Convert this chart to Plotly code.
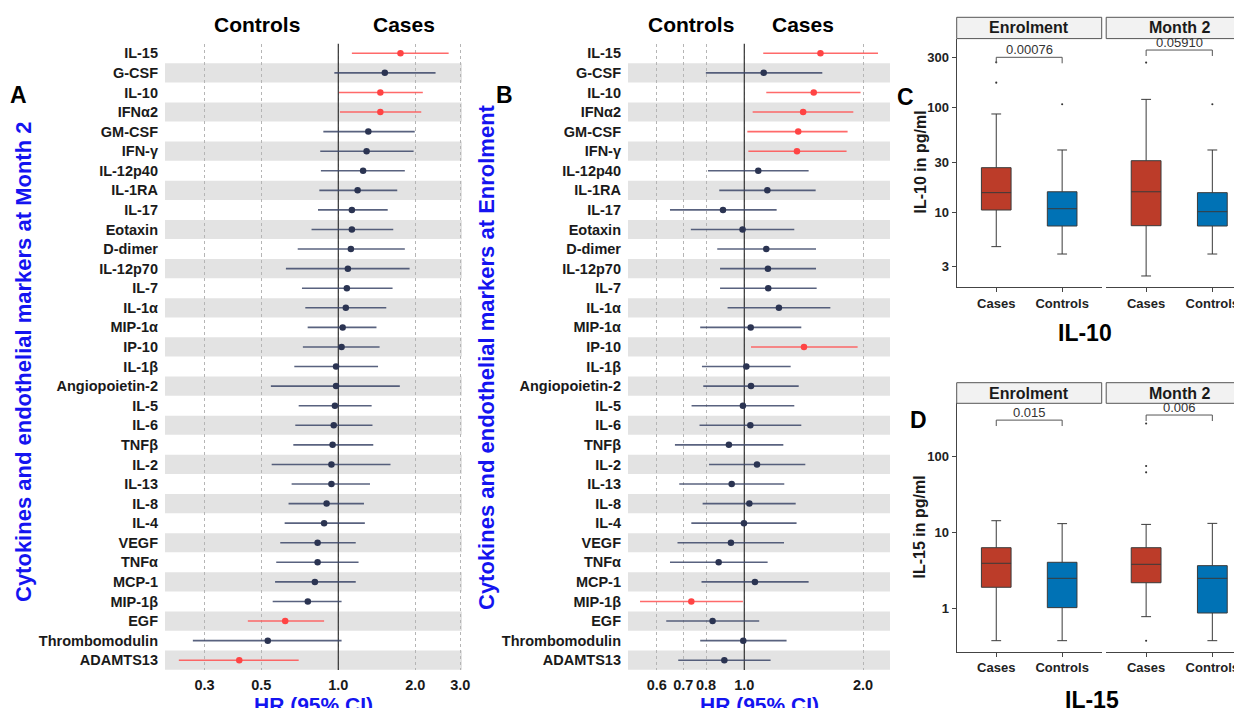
import math
import plotly.graph_objects as go

# ---------------- data ----------------
markers = ["IL-15", "G-CSF", "IL-10", "IFNα2", "GM-CSF", "IFN-γ", "IL-12p40", "IL-1RA",
           "IL-17", "Eotaxin", "D-dimer", "IL-12p70", "IL-7", "IL-1α", "MIP-1α", "IP-10",
           "IL-1β", "Angiopoietin-2", "IL-5", "IL-6", "TNFβ", "IL-2", "IL-13", "IL-8",
           "IL-4", "VEGF", "TNFα", "MCP-1", "MIP-1β", "EGF", "Thrombomodulin", "ADAMTS13"]

# Panel A: Month 2
hr_a = [1.75, 1.52, 1.46, 1.46, 1.31, 1.29, 1.25, 1.19, 1.13, 1.13, 1.12, 1.09, 1.08, 1.07, 1.04, 1.03,
        0.98, 0.98, 0.97, 0.96, 0.95, 0.94, 0.94, 0.90, 0.88, 0.83, 0.83, 0.81, 0.76, 0.62, 0.53, 0.41]
lo_a = [1.13, 0.965, 1.006, 1.015, 0.874, 0.850, 0.855, 0.843, 0.833, 0.786, 0.694, 0.624, 0.721, 0.743,
        0.759, 0.727, 0.673, 0.545, 0.700, 0.679, 0.667, 0.549, 0.657, 0.639, 0.617, 0.593, 0.572, 0.566,
        0.554, 0.443, 0.270, 0.238]
hi_a = [2.70, 2.40, 2.14, 2.11, 1.99, 1.97, 1.82, 1.70, 1.56, 1.64, 1.82, 1.90, 1.63, 1.54, 1.41, 1.45,
        1.43, 1.74, 1.35, 1.36, 1.37, 1.60, 1.33, 1.26, 1.27, 1.17, 1.20, 1.17, 1.03, 0.88, 1.03, 0.70]
sig_a = [1, 0, 1, 1, 0, 0, 0, 0, 0, 0, 0, 0, 0, 0, 0, 0,
         0, 0, 0, 0, 0, 0, 0, 0, 0, 0, 0, 0, 0, 1, 0, 1]

# Panel B: Enrolment
hr_b = [1.56, 1.12, 1.50, 1.41, 1.37, 1.36, 1.085, 1.144, 0.883, 0.990, 1.137, 1.148, 1.150, 1.224, 1.038,
        1.417, 1.012, 1.040, 0.992, 1.036, 0.914, 1.077, 0.929, 1.030, 0.998, 0.925, 0.861, 1.064, 0.734,
        0.831, 0.994, 0.890]
lo_b = [1.117, 0.799, 1.137, 1.050, 1.018, 1.024, 0.809, 0.864, 0.648, 0.732, 0.854, 0.868, 0.868, 0.907,
        0.773, 1.040, 0.781, 0.787, 0.735, 0.770, 0.667, 0.814, 0.684, 0.784, 0.734, 0.677, 0.648, 0.779,
        0.544, 0.634, 0.773, 0.680]
hi_b = [2.183, 1.577, 1.972, 1.890, 1.828, 1.817, 1.456, 1.517, 1.208, 1.339, 1.520, 1.520, 1.526, 1.653,
        1.395, 1.938, 1.311, 1.374, 1.339, 1.395, 1.256, 1.428, 1.263, 1.350, 1.357, 1.261, 1.146, 1.456,
        0.992, 1.091, 1.280, 1.166]
sig_b = [1, 0, 1, 1, 1, 1, 0, 0, 0, 0, 0, 0, 0, 0, 0, 1,
         0, 0, 0, 0, 0, 0, 0, 0, 0, 0, 0, 0, 1, 0, 0, 0]

ticks_a = [0.3, 0.5, 1.0, 2.0, 3.0]
ticklab_a = ["0.3", "0.5", "1.0", "2.0", "3.0"]
ticks_b = [0.6, 0.7, 0.8, 1.0, 2.0]
ticklab_b = ["0.6", "0.7", "0.8", "1.0", "2.0"]

groups = ["Cases", "Controls"]
facets = ["Enrolment", "Month 2"]

# Panel C: IL-10 (pg/ml) box statistics [Cases, Controls]
il10 = {
    "Enrolment": dict(q1=[10.45, 7.35], med=[15.3, 10.75], q3=[26.5, 15.6], lf=[4.67, 3.97], uf=[86.3, 39.1]),
    "Month 2": dict(q1=[7.4, 7.35], med=[15.6, 10.07], q3=[30.9, 15.3], lf=[2.45, 3.97], uf=[119.0, 39.1]),
}
il10_out = {
    "Enrolment": [[171.8, 269.0], [107.0]],
    "Month 2": [[267.0], [107.0]],
}
il10_p = ["0.00076", "0.05910"]
il10_bracket = [(300.0, 263.0), (352.0, 309.0)]
il10_ticks = [3, 10, 30, 100, 300]

# Panel D: IL-15 (pg/ml)
il15 = {
    "Enrolment": dict(q1=[1.89, 1.02], med=[3.91, 2.48], q3=[6.27, 4.03], lf=[0.375, 0.375], uf=[14.2, 13.0]),
    "Month 2": dict(q1=[2.17, 0.867], med=[3.79, 2.48], q3=[6.27, 3.64], lf=[0.776, 0.375], uf=[12.7, 13.1]),
}
il15_out = {
    "Enrolment": [[], []],
    "Month 2": [[270.0, 74.5, 61.5, 0.375], []],
}
il15_p = ["0.015", "0.006"]
il15_bracket = [(299.0, 250.0), (349.0, 291.0)]
il15_ticks = [1, 10, 100]

# ---------------- style ----------------
OFF = 8                      # page body margin offset
W, H = 1242 - OFF, 708 - OFF
FONT = "Liberation Sans, Arial, Helvetica, sans-serif"
RED_PT, RED_LN = "#FF4444", "rgba(255,80,80,0.85)"
NAVY_PT, NAVY_LN = "#2B3452", "rgba(60,70,105,0.85)"
BLUE = "#1414F0"
BOX_RED, BOX_BLUE = "#BC3C29", "#0072B5"


def px(x):
    return (x - OFF) / W


def py(y):
    return 1 - (y - OFF) / H


fig = go.Figure()
shapes = []
annotations = []


def forest(xa, ya, hr, lo, hi, sig):
    n = len(markers)
    ys = list(range(n))
    fig.add_trace(go.Scatter(x=[1, 1], y=[-0.5, n - 0.5], mode="lines", xaxis=xa, yaxis=ya,
                             line=dict(color="#333333", width=1.2), hoverinfo="skip", showlegend=False))
    for flag, pc, lc in [(0, NAVY_PT, NAVY_LN), (1, RED_PT, RED_LN)]:
        idx = [i for i in range(n) if sig[i] == flag]
        fig.add_trace(go.Scatter(
            x=[hr[i] for i in idx], y=[ys[i] for i in idx], mode="markers",
            xaxis=xa, yaxis=ya, showlegend=False,
            marker=dict(color=pc, size=6.5),
            error_x=dict(type="data", symmetric=False,
                         array=[hi[i] - hr[i] for i in idx],
                         arrayminus=[hr[i] - lo[i] for i in idx],
                         color=lc, thickness=1.6, width=0),
        ))
    for i in range(1, n, 2):
        shapes.append(dict(type="rect", xref=xa + " domain", yref=ya,
                           x0=0, x1=1, y0=i - 0.49, y1=i + 0.49,
                           fillcolor="#E3E3E3", line=dict(width=0), layer="below"))


forest("x", "y", hr_a, lo_a, hi_a, sig_a)
forest("x2", "y2", hr_b, lo_b, hi_b, sig_b)


def boxpanel(xa1, ya1, xa2, ya2, stats, outl, pvals, brackets):
    for (xa, ya), fac, pv, (btop, bleg) in zip([(xa1, ya1), (xa2, ya2)], facets, pvals, brackets):
        st = stats[fac]
        for gi, (g, col) in enumerate(zip(groups, [BOX_RED, BOX_BLUE])):
            fig.add_trace(go.Box(
                x=[g], q1=[st["q1"][gi]], median=[st["med"][gi]], q3=[st["q3"][gi]],
                lowerfence=[st["lf"][gi]], upperfence=[st["uf"][gi]],
                xaxis=xa, yaxis=ya, fillcolor=col, line=dict(color="#3A3A3A", width=1),
                width=0.45, whiskerwidth=0.33, boxpoints=False, showlegend=False, hoverinfo="skip"))
            if outl[fac][gi]:
                fig.add_trace(go.Scatter(
                    x=[g] * len(outl[fac][gi]), y=outl[fac][gi], mode="markers", xaxis=xa, yaxis=ya,
                    marker=dict(color="#333333", size=2.1), showlegend=False, cliponaxis=False))
        fig.add_trace(go.Scatter(
            x=[groups[0], groups[0], groups[1], groups[1]], y=[bleg, btop, btop, bleg],
            mode="lines", xaxis=xa, yaxis=ya, line=dict(color="#555555", width=1),
            showlegend=False, cliponaxis=False, hoverinfo="skip"))
        annotations.append(dict(xref=xa, yref=ya, x=0.5, y=math.log10(btop), text=pv,
                                showarrow=False, yanchor="bottom", yshift=-2,
                                font=dict(family=FONT, size=13, color="#333333")))


boxpanel("x3", "y3", "x4", "y4", il10, il10_out, il10_p, il10_bracket)
boxpanel("x5", "y5", "x6", "y6", il15, il15_out, il15_p, il15_bracket)

# ---------------- axes ----------------
tickfont_f = dict(family=FONT, size=14.5, color="#1A1A1A", weight="bold")
ydom_f = [py(670), py(43.5)]
n = len(markers)
common_y = dict(tickmode="array", tickvals=list(range(n)), ticktext=markers,
                range=[n - 0.5, -0.5], showgrid=False, zeroline=False, showline=False,
                ticks="", ticklabelstandoff=6, tickfont=tickfont_f, automargin=False, domain=ydom_f)
common_x = dict(type="log", showgrid=True, gridcolor="#B5B5B5", griddash="dot", gridwidth=1,
                zeroline=False, showline=False, ticks="", ticklabelstandoff=4,
                tickfont=tickfont_f, automargin=False, tickmode="array")

fig.update_layout(
    xaxis=dict(common_x, domain=[px(165), px(462)], range=[-0.6775, 0.4836],
               tickvals=ticks_a, ticktext=ticklab_a, anchor="y"),
    yaxis=dict(common_y, anchor="x"),
    xaxis2=dict(common_x, domain=[px(628), px(890)], range=[-0.2949, 0.3695],
                tickvals=ticks_b, ticktext=ticklab_b, anchor="y2"),
    yaxis2=dict(common_y, anchor="x2"),
)

tickfont_b = dict(family=FONT, size=13, color="#222222", weight="bold")
fx1 = [px(956.7), px(1101.7)]
fx2 = [px(1106.2), 1.0]


def box_axes(xk1, yk1, xk2, yk2, ydom, yrange, yticks):
    lay = {}
    xc = dict(type="category", categoryorder="array", categoryarray=groups, showgrid=False,
              zeroline=False, showline=True, linecolor="#444444", linewidth=1.2,
              ticks="outside", ticklen=4, tickcolor="#444444", tickfont=tickfont_b,
              automargin=False)
    lay[xk1] = dict(xc, domain=fx1, range=[-0.6, 1.6], anchor=yk1.replace("axis", ""))
    lay[xk2] = dict(xc, domain=fx2, range=[-0.603, 1.448], anchor=yk2.replace("axis", ""))
    yc = dict(type="log", domain=ydom, range=yrange, showgrid=False, zeroline=False,
              automargin=False)
    lay[yk1] = dict(yc, showline=True, linecolor="#444444", linewidth=1.2, ticks="outside",
                    ticklen=4, tickcolor="#444444", tickfont=tickfont_b, tickmode="array",
                    tickvals=yticks, ticktext=[str(t) for t in yticks],
                    anchor=xk1.replace("axis", ""))
    lay[yk2] = dict(yc, showline=False, showticklabels=False, ticks="",
                    anchor=xk2.replace("axis", ""))
    return lay


fig.update_layout(**box_axes("xaxis3", "yaxis3", "xaxis4", "yaxis4",
                             [py(287.3), py(39)], [0.281, 2.652], il10_ticks))
fig.update_layout(**box_axes("xaxis5", "yaxis5", "xaxis6", "yaxis6",
                             [py(651.7), py(403.3)], [-0.571, 2.697], il15_ticks))

# facet strips
for (top, bot) in [(17.3, 38.6), (382.7, 403.3)]:
    for (x0, x1) in [(956.7, 1101.7), (1106.2, 1252)]:
        shapes.append(dict(type="rect", xref="paper", yref="paper", x0=px(x0), x1=px(x1),
                           y0=py(bot), y1=py(top), fillcolor="#F2F2F2",
                           line=dict(color="#555555", width=1)))
for ycen in [27.9, 393.0]:
    for xc, lab in zip([1029.2, 1179.1], facets):
        annotations.append(dict(xref="paper", yref="paper", x=px(xc), y=py(ycen), text=lab,
                                showarrow=False, xanchor="center", yanchor="middle",
                                font=dict(family=FONT, size=16, color="#1A1A1A", weight="bold")))


def label(x, y, text, size, color="#000000", angle=0, bold=True):
    annotations.append(dict(xref="paper", yref="paper", x=px(x), y=py(y), text=text,
                            showarrow=False, xanchor="center", yanchor="middle", textangle=angle,
                            font=dict(family=FONT, size=size, color=color,
                                      weight="bold" if bold else "normal")))


label(256.7, 25, "Controls", 21)
label(404.3, 25, "Cases", 21)
label(690.7, 25, "Controls", 21)
label(803.3, 25, "Cases", 21)
label(18.5, 95, "A", 23)
label(504.5, 95, "B", 23)
label(905.5, 96.5, "C", 23)
label(918.5, 420, "D", 23)
label(24, 362, "Cytokines and endothelial markers at Month 2", 22, BLUE, -90)
label(486, 357, "Cytokines and endothelial markers at Enrolment", 22, BLUE, -90)
label(313.3, 704, "HR (95% CI)", 21, BLUE)
label(759, 704, "HR (95% CI)", 21, BLUE)
label(920, 162.5, "IL-10 in pg/ml", 16, "#1A1A1A", -90)
label(919, 527.5, "IL-15 in pg/ml", 16, "#1A1A1A", -90)
label(1085, 333, "IL-10", 23)
label(1092, 700, "IL-15", 23)

fig.update_layout(
    template="none", width=W, height=H,
    margin=dict(l=0, r=0, t=0, b=0, autoexpand=False),
    paper_bgcolor="white", plot_bgcolor="white",
    font=dict(family=FONT), showlegend=False, boxmode="overlay",
    shapes=shapes, annotations=annotations,
)

fig.write_html("out.html")
